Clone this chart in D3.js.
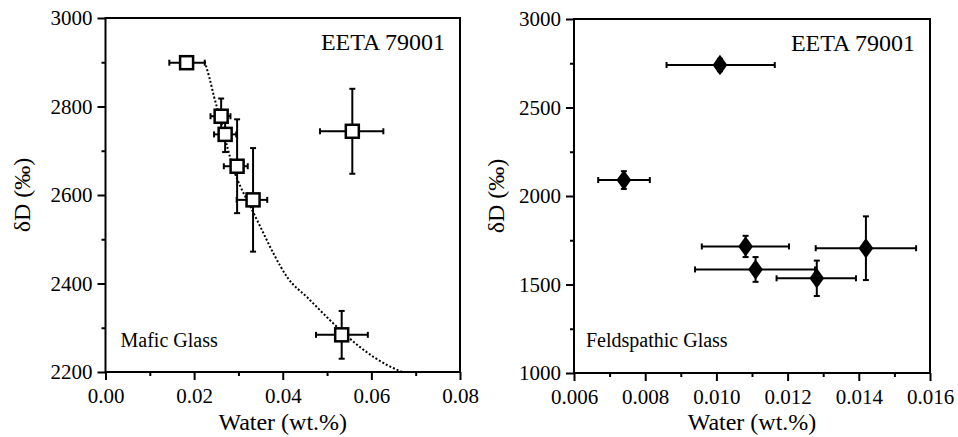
<!DOCTYPE html>
<html>
<head>
<meta charset="utf-8">
<script src="https://cdn.jsdelivr.net/npm/d3@7"></script>
<style>
  body { margin: 0; background: #fff; }
  svg { display: block; }
  text { font-family: "Liberation Serif", "Times New Roman", serif; fill: #000; }
  .tick line { stroke: #000; stroke-width: 2; }
  .domain { display: none; }
</style>
</head>
<body>
<div id="chart"></div>
<script>
/*
 * Two panels: mafic glass (open squares) and feldspathic glass (filled diamonds)
 */

var serif = "'Liberation Serif', 'Times New Roman', serif";

// mafic glass
var maficWater   = [0.0183, 0.0261, 0.0270, 0.0297, 0.0333, 0.0557, 0.0533];
var maficWaterLo = [0.0144, 0.0237, 0.0245, 0.0267, 0.0296, 0.0484, 0.0475];
var maficWaterHi = [0.0224, 0.0282, 0.0295, 0.0321, 0.0365, 0.0627, 0.0592];
var maficDD      = [2899, 2778, 2737, 2665, 2589, 2744, 2284];
var maficDDErr   = [10, 40, 40, 106, 117, 96, 54];

// dotted model curve
var curveWater = [0.0224, 0.0234, 0.0245, 0.0260, 0.0275, 0.0290, 0.0305, 0.0324, 0.0350, 0.0380, 0.0411, 0.0456, 0.0516, 0.0576, 0.0637, 0.0670];
var curveDD    = [2901, 2867, 2822, 2769, 2708, 2655, 2618, 2580, 2527, 2466, 2413, 2368, 2308, 2255, 2215, 2200];

// feldspathic glass
var feldWater   = [0.0101, 0.0074, 0.01082, 0.0111, 0.01282, 0.0142];
var feldWaterLo = [0.0086, 0.00668, 0.00959, 0.0094, 0.01169, 0.01279];
var feldWaterHi = [0.01164, 0.00813, 0.01204, 0.01277, 0.01392, 0.01561];
var feldDD      = [2740, 2090, 1715, 1585, 1535, 1705];
var feldDDErr   = [35, 50, 60, 70, 100, 180];

var maficXTicks = [0, 0.02, 0.04, 0.06, 0.08];
var maficXMinor = [0.01, 0.03, 0.05, 0.07];
var maficYTicks = [2200, 2400, 2600, 2800, 3000];
var maficYMinor = [2300, 2500, 2700, 2900];

var feldXTicks = [0.006, 0.008, 0.010, 0.012, 0.014, 0.016];
var feldXMinor = [0.007, 0.009, 0.011, 0.013, 0.015];
var feldYTicks = [1000, 1500, 2000, 2500, 3000];
var feldYMinor = [1250, 1750, 2250, 2750];

var svg = d3.select("#chart").append("svg").attr("width", 958).attr("height", 437)
  .style("font-family", serif);
svg.append("rect").attr("width", 958).attr("height", 437).attr("fill", "#fff");

// axis groups get d3's own sans-serif attribute, so override it on every label
function serifTicks(sel){
  sel.attr("font-family", serif);
  sel.selectAll("text").style("font-family", serif).style("font-size", "21px").attr("fill", "#000");
}

/*
 * Draw one panel: frame, axes, labels
 */
function drawPanel(box, xDomain, yDomain, xt, xm, yt, ym, xFmt, yFmt, note){
  var x = d3.scaleLinear().domain(xDomain).range([box.left, box.right]);
  var y = d3.scaleLinear().domain(yDomain).range([box.bottom, box.top]);
  var g = svg.append("g");

  // minor ticks first, then major
  g.append("g").attr("transform", "translate(0," + box.bottom + ")")
    .call(d3.axisBottom(x).tickValues(xm).tickSize(4).tickFormat(""));
  g.append("g").attr("transform", "translate(" + box.left + ",0)")
    .call(d3.axisLeft(y).tickValues(ym).tickSize(4).tickFormat(""));

  g.append("g").attr("transform", "translate(0," + box.bottom + ")")
    .call(d3.axisBottom(x).tickValues(xt).tickSize(8).tickPadding(8).tickFormat(xFmt))
    .call(serifTicks);
  g.append("g").attr("transform", "translate(" + box.left + ",0)")
    .call(d3.axisLeft(y).tickValues(yt).tickSize(8).tickPadding(5).tickFormat(yFmt))
    .call(serifTicks);

  // frame
  g.append("rect").attr("x", box.left).attr("y", box.top)
    .attr("width", box.right - box.left).attr("height", box.bottom - box.top)
    .attr("fill", "none").attr("stroke", "#000").attr("stroke-width", 2);

  g.append("text").attr("x", box.right - 15).attr("y", box.top + 32)
    .attr("text-anchor", "end").style("font-family", serif).style("font-size", "24px").text("EETA 79001");
  g.append("text").attr("x", box.left + note.dx).attr("y", 347)
    .style("font-family", serif).style("font-size", "20px").text(note.text);

  g.append("text").attr("x", (box.left + box.right) / 2).attr("y", 430)
    .attr("text-anchor", "middle").style("font-family", serif).style("font-size", "24px").text("Water (wt.%)");
  g.append("text").attr("transform", "translate(" + (box.left - note.ylab) + "," + ((box.top + box.bottom) / 2) + ") rotate(-90)")
    .attr("text-anchor", "middle").style("font-family", serif).style("font-size", "24px").text("δD (‰)");

  return {x: x, y: y, g: g};
}

function drawErrors(p, xs, lo, hi, ys, err){
  var cap = 3;
  for(var i = 0; i < xs.length; i++){
    var cx = p.x(xs[i]), cy = p.y(ys[i]);
    var x0 = p.x(lo[i]), x1 = p.x(hi[i]);
    var y0 = p.y(ys[i] - err[i]), y1 = p.y(ys[i] + err[i]);
    var e = p.g.append("g").attr("stroke", "#000").attr("stroke-width", 2);
    e.append("line").attr("x1", x0).attr("x2", x1).attr("y1", cy).attr("y2", cy);
    e.append("line").attr("x1", x0).attr("x2", x0).attr("y1", cy - cap).attr("y2", cy + cap);
    e.append("line").attr("x1", x1).attr("x2", x1).attr("y1", cy - cap).attr("y2", cy + cap);
    e.append("line").attr("x1", cx).attr("x2", cx).attr("y1", y0).attr("y2", y1);
    e.append("line").attr("x1", cx - cap).attr("x2", cx + cap).attr("y1", y0).attr("y2", y0);
    e.append("line").attr("x1", cx - cap).attr("x2", cx + cap).attr("y1", y1).attr("y2", y1);
  }
}

// left panel
var left = drawPanel({left: 105.5, right: 460, top: 18, bottom: 372},
  [0, 0.08], [2200, 3000], maficXTicks, maficXMinor, maficYTicks, maficYMinor,
  d3.format(".2f"), d3.format("d"), {text: "Mafic Glass", dx: 15, ylab: 76});

var curve = curveWater.map(function(w, i){ return [w, curveDD[i]]; });
left.g.append("path").datum(curve)
  .attr("d", d3.line().curve(d3.curveMonotoneX).x(function(d){ return left.x(d[0]); }).y(function(d){ return left.y(d[1]); }))
  .attr("fill", "none").attr("stroke", "#000").attr("stroke-width", 2).attr("stroke-dasharray", "2,2");

drawErrors(left, maficWater, maficWaterLo, maficWaterHi, maficDD, maficDDErr);
left.g.selectAll("rect.pt").data(maficWater).enter().append("rect").attr("class", "pt")
  .attr("x", function(d){ return left.x(d) - 6.5; })
  .attr("y", function(d, i){ return left.y(maficDD[i]) - 6.5; })
  .attr("width", 13).attr("height", 13)
  .attr("fill", "#fff").attr("stroke", "#000").attr("stroke-width", 2.5);

// right panel
var right = drawPanel({left: 574, right: 930, top: 19, bottom: 373},
  [0.006, 0.016], [1000, 3000], feldXTicks, feldXMinor, feldYTicks, feldYMinor,
  d3.format(".3f"), d3.format("d"), {text: "Feldspathic Glass", dx: 12, ylab: 70});

drawErrors(right, feldWater, feldWaterLo, feldWaterHi, feldDD, feldDDErr);
right.g.selectAll("path.pt").data(feldWater).enter().append("path").attr("class", "pt")
  .attr("d", d3.symbol().type(d3.symbolDiamond).size(120))
  .attr("transform", function(d, i){ return "translate(" + right.x(d) + "," + right.y(feldDD[i]) + ") scale(1.25,1)"; })
  .attr("fill", "#000");
</script>
</body>
</html>
